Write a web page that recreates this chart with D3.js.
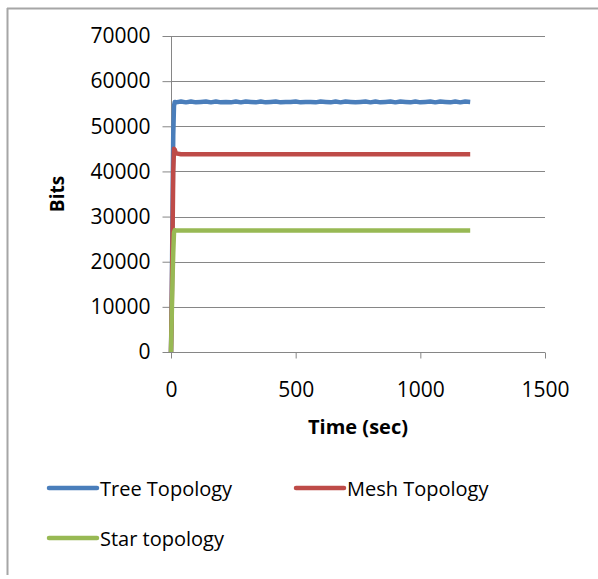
<!DOCTYPE html>
<html>
<head>
<meta charset="utf-8">
<script src="https://cdn.jsdelivr.net/npm/d3@7"></script>
<style>
  html, body { margin: 0; padding: 0; background: #fff; }
  svg { display: block; font-family: "Open Sans", "Liberation Sans", sans-serif; }
</style>
</head>
<body>
<svg id="chart" width="598" height="579"></svg>
<script>
// Throughput over time for three network topologies
const time = [0, 3, 6, 9, 12, 15, 20, 40, 60, 80, 100, 120, 140, 160, 180, 200, 220, 240, 260, 280, 300, 320, 340, 360, 380, 400, 420, 440, 460, 480, 500, 520, 540, 560, 580, 600, 620, 640, 660, 680, 700, 720, 740, 760, 780, 800, 820, 840, 860, 880, 900, 920, 940, 960, 980, 1000, 1020, 1040, 1060, 1080, 1100, 1120, 1140, 1160, 1180, 1200];

const treeBits = [0, 12000, 30000, 48000, 54500, 55400, 55300, 55500, 55300, 55500, 55300, 55400, 55500, 55300, 55500, 55300, 55400, 55300, 55500, 55300, 55500, 55400, 55300, 55500, 55300, 55400, 55500, 55300, 55400, 55400, 55500, 55300, 55400, 55400, 55300, 55500, 55400, 55300, 55500, 55300, 55500, 55400, 55300, 55400, 55500, 55300, 55500, 55300, 55400, 55500, 55300, 55500, 55400, 55300, 55500, 55300, 55400, 55500, 55300, 55500, 55400, 55300, 55500, 55300, 55500, 55400];

const meshBits = [0, 10000, 25000, 40000, 45000, 44800, 44000, 43800, 43800, 43800, 43800, 43800, 43800, 43800, 43800, 43800, 43800, 43800, 43800, 43800, 43800, 43800, 43800, 43800, 43800, 43800, 43800, 43800, 43800, 43800, 43800, 43800, 43800, 43800, 43800, 43800, 43800, 43800, 43800, 43800, 43800, 43800, 43800, 43800, 43800, 43800, 43800, 43800, 43800, 43800, 43800, 43800, 43800, 43800, 43800, 43800, 43800, 43800, 43800, 43800, 43800, 43800, 43800, 43800, 43800, 43800];

const starBits = [0, 8000, 16000, 22000, 26500, 27000, 26900, 26900, 26900, 26900, 26900, 26900, 26900, 26900, 26900, 26900, 26900, 26900, 26900, 26900, 26900, 26900, 26900, 26900, 26900, 26900, 26900, 26900, 26900, 26900, 26900, 26900, 26900, 26900, 26900, 26900, 26900, 26900, 26900, 26900, 26900, 26900, 26900, 26900, 26900, 26900, 26900, 26900, 26900, 26900, 26900, 26900, 26900, 26900, 26900, 26900, 26900, 26900, 26900, 26900, 26900, 26900, 26900, 26900, 26900, 26900];

const seriesNames = ["Tree Topology", "Mesh Topology", "Star topology"];
const seriesColors = ["#4a7ebb", "#be4b48", "#98b954"];
const xTicks = [0, 500, 1000, 1500];
const yTicks = [0, 10000, 20000, 30000, 40000, 50000, 60000, 70000];

const series = [treeBits, meshBits, starBits].map((vals, i) => ({
  name: seriesNames[i],
  color: seriesColors[i],
  points: time.map((t, j) => [t, vals[j]])
}));

const svg = d3.select("#chart");
const font = "Open Sans, Liberation Sans, sans-serif";

// Chart frame (left and top edges)
svg.append("line").attr("x1", 7.5).attr("x2", 7.5).attr("y1", 8).attr("y2", 575)
  .attr("stroke", "#a6a6a6").attr("stroke-width", 2);
svg.append("line").attr("x1", 7).attr("x2", 598).attr("y1", 8.5).attr("y2", 8.5)
  .attr("stroke", "#a6a6a6").attr("stroke-width", 2);

const x = d3.scaleLinear().domain([0, 1500]).range([171, 545]);
const y = d3.scaleLinear().domain([0, 70000]).range([352, 36]);

// Horizontal gridlines
svg.append("g")
  .selectAll("line")
  .data(yTicks.filter(d => d > 0))
  .join("line")
  .attr("x1", x(0)).attr("x2", x(1500))
  .attr("y1", d => Math.round(y(d)) + 0.5).attr("y2", d => Math.round(y(d)) + 0.5)
  .attr("stroke", "#868686").attr("stroke-width", 1);

// Y axis
const yAxis = svg.append("g")
  .attr("transform", `translate(${x(0) + 0.5},0)`)
  .call(d3.axisLeft(y).tickValues(yTicks).tickSize(9).tickPadding(12).tickFormat(d3.format("d")));
yAxis.selectAll("path, line").attr("stroke", "#868686");
yAxis.select(".domain").attr("d", `M0,${y(70000)}V${y(0)}`);
yAxis.selectAll("text").attr("font-size", 21).attr("fill", "#000").attr("font-family", font);

// X axis
const xAxis = svg.append("g")
  .attr("transform", `translate(0,${Math.round(y(0)) + 0.5})`)
  .call(d3.axisBottom(x).tickValues(xTicks).tickSize(6).tickPadding(24).tickFormat(d3.format("d")));
xAxis.selectAll("path, line").attr("stroke", "#868686");
xAxis.select(".domain").attr("d", `M${x(0)},0H${x(1500)}`);
xAxis.selectAll("text").attr("font-size", 21).attr("fill", "#000").attr("font-family", font);

// Axis titles
svg.append("text")
  .attr("x", 358).attr("y", 434)
  .attr("text-anchor", "middle")
  .attr("font-size", 20).attr("font-weight", "bold")
  .text("Time (sec)");

svg.append("text")
  .attr("transform", "translate(64,194) rotate(-90)")
  .attr("text-anchor", "middle")
  .attr("font-size", 19).attr("font-weight", "bold")
  .text("Bits");

// Series lines: tree underneath, star on top
const line = d3.line().x(d => x(d[0])).y(d => y(d[1]));
svg.append("g")
  .selectAll("path")
  .data(series)
  .join("path")
  .attr("d", d => line(d.points))
  .attr("fill", "none")
  .attr("stroke", d => d.color)
  .attr("stroke-width", 4.5)
  .attr("stroke-linejoin", "round");

// Legend
const legendPos = [[49, 488], [296, 488], [49, 538]];
const legend = svg.append("g")
  .selectAll("g")
  .data(series)
  .join("g")
  .attr("transform", (d, i) => `translate(${legendPos[i][0]},${legendPos[i][1]})`);
legend.append("line")
  .attr("x1", 0).attr("x2", 48).attr("y1", 0).attr("y2", 0)
  .attr("stroke", d => d.color).attr("stroke-width", 4.5).attr("stroke-linecap", "round");
legend.append("text")
  .attr("x", 51).attr("y", 8)
  .attr("font-size", 20)
  .attr("fill", "#000")
  .text(d => d.name);
</script>
</body>
</html>
